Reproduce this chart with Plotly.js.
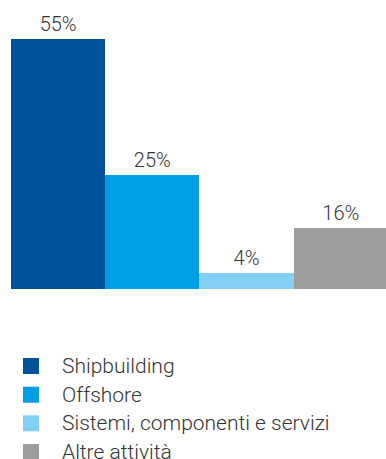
<!DOCTYPE html>
<html><head><meta charset="utf-8">
<script src="https://cdn.plot.ly/plotly-3.0.1.min.js"></script>
<style>html,body{margin:0;padding:0;overflow:hidden;background:#fff}</style>
</head><body><div id="chart"></div>
<script>
const categories = ["Shipbuilding", "Offshore", "Sistemi, componenti e servizi", "Altre attività"];
const values = [55, 25, 3.6, 13.4];
const labels = ["55%", "25%", "4%", "16%"];
const colors = ["#00529B", "#009FE3", "#84D0F5", "#9D9D9C"];

const W = 386, H = 459, ML = 11, MT = 0, MB = 170, MR = 0;
const PW = W - ML - MR, PH = H - MT - MB;
const px2x = p => (p - ML) / PW;
const px2y = p => (H - MB - p) / PH;
const FONT = {family: 'Roboto', size: 20, weight: 300, color: '#333'};
const LFONT = {family: 'Roboto', size: 21, weight: 300, color: '#333'};

const trace = {
  type: 'bar',
  x: categories,
  y: values,
  text: labels,
  textposition: 'outside',
  cliponaxis: false,
  textfont: FONT,
  marker: {color: colors, line: {width: 0}},
  width: 1,
  hoverinfo: 'none',
  showlegend: false
};

const shapes = [], annotations = [];
const rowY = [366, 394.7, 423.3, 452];
categories.forEach((c, i) => {
  shapes.push({type: 'rect', xref: 'paper', yref: 'paper',
    x0: px2x(23), x1: px2x(39), y0: px2y(rowY[i] + 8), y1: px2y(rowY[i] - 8),
    fillcolor: colors[i], line: {width: 0}});
  annotations.push({xref: 'paper', yref: 'paper', x: px2x(60), y: px2y(rowY[i]),
    xanchor: 'left', yanchor: 'middle', showarrow: false, text: c,
    font: LFONT});
});

const layout = {
  width: W, height: H,
  margin: {l: ML, r: MR, t: MT, b: MB, pad: 0},
  paper_bgcolor: '#fff', plot_bgcolor: '#fff',
  bargap: 0,
  xaxis: {range: [-0.5, 3.48], showticklabels: false, showgrid: false, zeroline: false, showline: false, ticks: ''},
  yaxis: {range: [0, 63.58], showticklabels: false, showgrid: false, zeroline: false, showline: false, ticks: ''},
  shapes: shapes,
  annotations: annotations,
  showlegend: false
};

Plotly.newPlot('chart', [trace], layout, {displayModeBar: false, staticPlot: true});
</script></body></html>
